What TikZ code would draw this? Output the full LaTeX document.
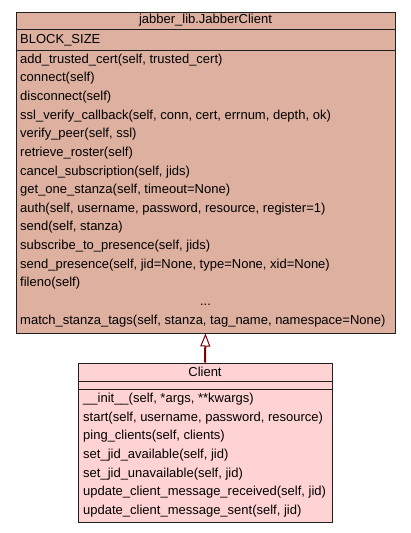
\documentclass[tikz,border=0pt]{standalone}
\usepackage{fontspec}
\setmainfont{Liberation Sans}
\usetikzlibrary{arrows.meta}
\definecolor{basefill}{HTML}{DEB0A0}
\definecolor{subfill}{HTML}{FFD3D3}
\definecolor{inherit}{HTML}{7F0000}
\definecolor{frame}{HTML}{202020}
\newcommand{\memberfont}{\fontsize{13}{15}\selectfont}
\tikzset{
  classbox/.style={draw=frame, line width=1pt, rectangle, inner sep=0pt},
  divider/.style={draw=frame, line width=1pt},
  member/.style={anchor=west, inner sep=0pt, font=\memberfont, text=black},
  title/.style={anchor=center, inner sep=0pt, font=\memberfont, text=black},
  generalize/.style={draw=inherit, line width=2pt,
    -{Triangle[open, length=13pt, width=10pt, line width=1pt, fill=white]}}
}
\begin{document}
\begin{tikzpicture}[x=1pt, y=-1pt]
\useasboundingbox (0,0) rectangle (411,533);

% base class jabber_lib.JabberClient
\node[classbox, fill=basefill, minimum width=379pt, minimum height=321pt] (jc) at (205.5,172.5) {};
\node[title] (jc-title) at (205.5,20.5) {jabber\_lib.JabberClient};
\draw[divider] (jc.west |- 0,29.5) -- (jc.east |- 0,29.5);
\node[member] (jc-attr) at (20,40) {BLOCK\_SIZE};
\draw[divider] (jc.west |- 0,50.5) -- (jc.east |- 0,50.5);
\foreach \t [count=\i from 0] in {
  {add\_trusted\_cert(self, trusted\_cert)},
  {connect(self)},
  {disconnect(self)},
  {ssl\_verify\_callback(self, conn, cert, errnum, depth, ok)},
  {verify\_peer(self, ssl)},
  {retrieve\_roster(self)},
  {cancel\_subscription(self, jids)},
  {get\_one\_stanza(self, timeout=None)},
  {auth(self, username, password, resource, register=1)},
  {send(self, stanza)},
  {subscribe\_to\_presence(self, jids)},
  {send\_presence(self, jid=None, type=None, xid=None)},
  {fileno(self)}}
  \node[member] (jc-m\i) at (20,{60+\i*18.62}) {\t};
\node[title] (jc-more) at (205.5,{60+13*18.62+3}) {...};
\node[member] (jc-m14) at (20,{60+14*18.62}) {match\_stanza\_tags(self, stanza, tag\_name, namespace=None)};

% derived class Client
\node[classbox, fill=subfill, minimum width=254pt, minimum height=159pt] (cl) at (205,442.5) {};
\node[title] (cl-title) at (205,372) {Client};
\draw[divider] (cl.west |- 0,381) -- (cl.east |- 0,381);
\draw[divider] (cl.west |- 0,389) -- (cl.east |- 0,389);
\foreach \t [count=\i from 0] in {
  {\_\_init\_\_(self, *args, **kwargs)},
  {start(self, username, password, resource)},
  {ping\_clients(self, clients)},
  {set\_jid\_available(self, jid)},
  {set\_jid\_unavailable(self, jid)},
  {update\_client\_message\_received(self, jid)},
  {update\_client\_message\_sent(self, jid)}}
  \node[member] (cl-m\i) at (83,{399+\i*18.67}) {\t};

% inheritance
\draw[generalize] (cl.north) -- (jc.south);
\end{tikzpicture}
\end{document}
